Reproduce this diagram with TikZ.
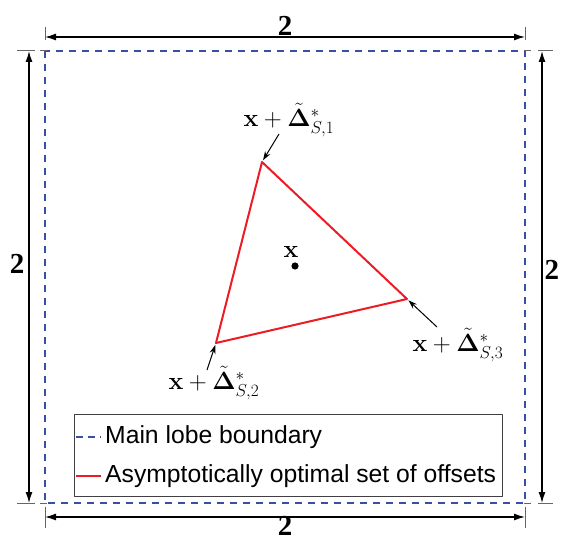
\documentclass[tikz,border=0pt]{standalone}
\usepackage{amsmath}
\usepackage[no-math]{fontspec}
\setmainfont{Liberation Serif}
\setsansfont{Liberation Sans}
\usetikzlibrary{arrows.meta}
\definecolor{lobeblue}{RGB}{55,80,165}
\definecolor{setred}{RGB}{236,28,36}
\begin{document}
\begin{tikzpicture}[x=1pt,y=-1pt, line join=round]
				\tikzset{dim/.style={line width=1.3pt,{Latex[length=11pt,width=7pt]}-{Latex[length=11pt,width=7pt]}},
					ext/.style={black!60,line width=1pt},
					lobe/.style={lobeblue,dash pattern=on 7pt off 6pt,line width=2pt},
					offs/.style={setred,line width=2pt},
					pointer/.style={line width=1pt,-{Stealth[length=9pt,width=6pt]},shorten >=2pt},
					twolab/.style={font=\fontsize{29}{29}\selectfont\bfseries,inner sep=1pt},
					vlab/.style={font=\fontsize{25}{25}\selectfont,inner sep=1pt},
					leg/.style={font=\fontsize{24.7}{26}\selectfont\sffamily,anchor=west,inner sep=0pt}}
				\useasboundingbox (0,0) rectangle (562,540);
				\def\xl{45}
				\def\xr{525}
				\def\yt{51}
				\def\yb{503}
				% main lobe
				\draw[lobe] (\xl,\yt) rectangle (\xr,\yb);
				% extension ticks
				\foreach \xx in {\xl,\xr} {
					\draw[ext] (\xx,27)--(\xx,40);
					\draw[ext] (\xx,507)--(\xx,528);}
				\foreach \yy in {\yt,\yb} {
					\draw[ext] (17,\yy)--(35,\yy);
					\draw[ext] (538,\yy)--(553,\yy);
					\draw[ext] (40,\yy)--(47,\yy);
					\draw[ext] (524,\yy)--(531,\yy);}
				% dimensions
				\coordinate (tl) at (\xl,37);  \coordinate (tr) at (\xr,37);
				\coordinate (bl) at (\xl,517); \coordinate (br) at (\xr,517);
				\coordinate (lt) at (29,\yt);  \coordinate (lb) at (29,\yb);
				\coordinate (rt) at (542,\yt); \coordinate (rb) at (542,\yb);
				\draw[dim] (tl)--(tr) node[twolab,midway,above=0pt]{2};
				\draw[dim] (bl)--(br) node[twolab,midway,below=-2pt]{2};
				\draw[dim] (lt)--(lb) node[twolab,pos=0.47,left=3pt]{2};
				\draw[dim] (rt)--(rb) node[twolab,pos=0.485,right=1pt]{2};
				% offsets
				\coordinate (v1) at (262,162);
				\coordinate (v2) at (216,343);
				\coordinate (v3) at (407,299);
				\draw[offs] (v1)--(v2)--(v3)--cycle;
				\fill (295,266) circle (3.6pt);
				\node[vlab] (xc) at (291,252) {$\mathbf{x}$};
				\node[vlab] (lab1) at (289,120) {$\mathbf{x}+\tilde{\mathbf{\Delta}}^{*}_{S,1}$};
				\node[vlab] (lab2) at (214,383) {$\mathbf{x}+\tilde{\mathbf{\Delta}}^{*}_{S,2}$};
				\node[vlab] (lab3) at (458,345) {$\mathbf{x}+\tilde{\mathbf{\Delta}}^{*}_{S,3}$};
				\coordinate (p1) at (279,134);
				\coordinate (p2) at (207,370);
				\coordinate (p3) at (437,327);
				\draw[pointer] (p1)--(v1);
				\draw[pointer] (p2)--(v2);
				\draw[pointer] (p3)--(v3);
				% legend
				\node[draw=black!75,line width=1pt,anchor=north west,minimum width=428pt,minimum height=82pt,inner sep=0pt] (legend) at (74,414) {};
				\coordinate (m1) at (76,437); \coordinate (m2) at (101,437);
				\coordinate (n1) at (76,476); \coordinate (n2) at (101,476);
				\draw[lobe,line width=1.5pt,dash pattern=on 7pt off 5pt] (m1)--(m2);
				\draw[offs,line width=1.5pt] (n1)--(n2);
				\node[leg] (leg1) at (105,437) {Main lobe boundary};
				\node[leg] (leg2) at (105,476) {Asymptotically optimal set of offsets};
\end{tikzpicture}
\end{document}
